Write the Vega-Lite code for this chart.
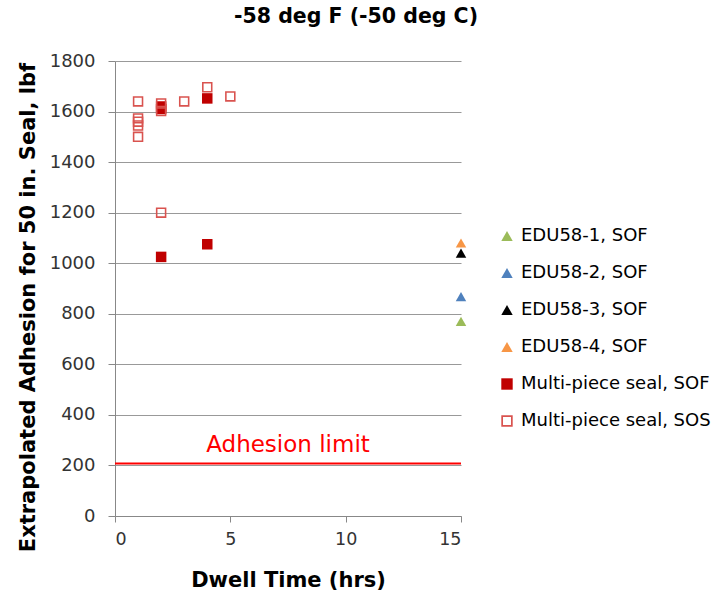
{
  "$schema": "https://vega.github.io/schema/vega-lite/v6.json",
  "autosize": "none",
  "width": 346,
  "height": 455,
  "padding": {"left": 115, "top": 61, "right": 252, "bottom": 80},
  "background": "white",
  "title": {
    "text": "-58 deg F (-50 deg C)",
    "font": "DejaVu Sans",
    "fontSize": 20.5,
    "fontWeight": "bold",
    "color": "#000000",
    "anchor": "middle",
    "dx": 68,
    "offset": 25
  },
  "config": {
    "view": {"stroke": null},
    "font": "DejaVu Sans"
  },
  "datasets": {
    "pts": [
      {"series": "EDU58-1, SOF", "time": 15, "adhesion": 770},
      {"series": "EDU58-2, SOF", "time": 15, "adhesion": 868},
      {"series": "EDU58-3, SOF", "time": 15, "adhesion": 1040},
      {"series": "EDU58-4, SOF", "time": 15, "adhesion": 1080},
      {"series": "Multi-piece seal, SOF", "time": 2, "adhesion": 1025},
      {"series": "Multi-piece seal, SOF", "time": 2, "adhesion": 1610},
      {"series": "Multi-piece seal, SOF", "time": 2, "adhesion": 1620},
      {"series": "Multi-piece seal, SOF", "time": 4, "adhesion": 1075},
      {"series": "Multi-piece seal, SOF", "time": 4, "adhesion": 1652},
      {"series": "Multi-piece seal, SOS", "time": 1, "adhesion": 1640},
      {"series": "Multi-piece seal, SOS", "time": 1, "adhesion": 1573},
      {"series": "Multi-piece seal, SOS", "time": 1, "adhesion": 1560},
      {"series": "Multi-piece seal, SOS", "time": 1, "adhesion": 1545},
      {"series": "Multi-piece seal, SOS", "time": 1, "adhesion": 1500},
      {"series": "Multi-piece seal, SOS", "time": 2, "adhesion": 1632},
      {"series": "Multi-piece seal, SOS", "time": 2, "adhesion": 1602},
      {"series": "Multi-piece seal, SOS", "time": 2, "adhesion": 1200},
      {"series": "Multi-piece seal, SOS", "time": 3, "adhesion": 1640},
      {"series": "Multi-piece seal, SOS", "time": 4, "adhesion": 1696},
      {"series": "Multi-piece seal, SOS", "time": 5, "adhesion": 1660}
    ],
    "limit": [
      {"time": 0, "time2": 15, "adhesion": 208, "label": "Adhesion limit", "labelTime": 7.5, "labelY": 281}
    ]
  },
  "layer": [
    {
      "data": {"name": "limit"},
      "mark": {"type": "rule", "color": "#FF0000", "strokeWidth": 2},
      "encoding": {
        "x": {"field": "time", "type": "quantitative"},
        "x2": {"field": "time2"},
        "y": {"field": "adhesion", "type": "quantitative"}
      }
    },
    {
      "data": {"name": "limit"},
      "mark": {"type": "text", "color": "#FF0000", "fontSize": 23, "font": "DejaVu Sans", "baseline": "middle", "align": "center"},
      "encoding": {
        "x": {"field": "labelTime", "type": "quantitative"},
        "y": {"field": "labelY", "type": "quantitative"},
        "text": {"field": "label"}
      }
    },
    {
      "data": {"name": "pts"},
      "mark": {"type": "point", "filled": true, "opacity": 1, "size": 110},
      "encoding": {
        "x": {
          "field": "time", "type": "quantitative",
          "scale": {"domain": [0, 15], "nice": false, "zero": false},
          "axis": {
            "values": [0, 5, 10, 15],
            "title": "Dwell Time (hrs)",
            "titleFont": "DejaVu Sans", "titleFontSize": 21, "titleFontWeight": "bold", "titleColor": "#000000",
            "titlePadding": 22,
            "labelFont": "DejaVu Sans", "labelFontSize": 17.5, "labelColor": "#333333", "labelPadding": 8,
            "grid": false,
            "domainColor": "#888888", "tickColor": "#888888", "tickSize": 6
          }
        },
        "y": {
          "field": "adhesion", "type": "quantitative",
          "scale": {"domain": [0, 1800], "nice": false},
          "axis": {
            "values": [0, 200, 400, 600, 800, 1000, 1200, 1400, 1600, 1800],
            "format": "d",
            "title": "Extrapolated Adhesion for 50 in. Seal, lbf",
            "titleFont": "DejaVu Sans", "titleFontSize": 21, "titleFontWeight": "bold", "titleColor": "#000000",
            "titleX": -87, "titleY": 246, "titleBaseline": "middle", "titleAlign": "center",
            "labelFont": "DejaVu Sans", "labelFontSize": 18, "labelColor": "#333333", "labelPadding": 13,
            "grid": true, "gridColor": "#999999",
            "domainColor": "#888888", "tickColor": "#888888", "tickSize": 7
          }
        },
        "color": {
          "field": "series", "type": "nominal",
          "scale": {
            "domain": ["EDU58-1, SOF", "EDU58-2, SOF", "EDU58-3, SOF", "EDU58-4, SOF", "Multi-piece seal, SOF", "Multi-piece seal, SOS"],
            "range": ["#9BBB59", "#4F81BD", "#000000", "#F79646", "#C00000", "#D9534F"]
          },
          "legend": {
            "orient": "none", "legendX": 383, "legendY": 166,
            "title": null,
            "labelFont": "DejaVu Sans", "labelFontSize": 18, "labelColor": "#000000", "labelLimit": 400,
            "rowPadding": 19, "symbolSize": 130, "symbolStrokeWidth": 0, "labelOffset": 5
          }
        },
        "shape": {
          "field": "series", "type": "nominal",
          "scale": {
            "domain": ["EDU58-1, SOF", "EDU58-2, SOF", "EDU58-3, SOF", "EDU58-4, SOF", "Multi-piece seal, SOF", "Multi-piece seal, SOS"],
            "range": ["triangle-up", "triangle-up", "triangle-up", "triangle-up", "square", "M-1,-1H1V1H-1Z M-0.7,-0.7V0.7H0.7V-0.7Z"]
          }
        }
      }
    }
  ]
}
